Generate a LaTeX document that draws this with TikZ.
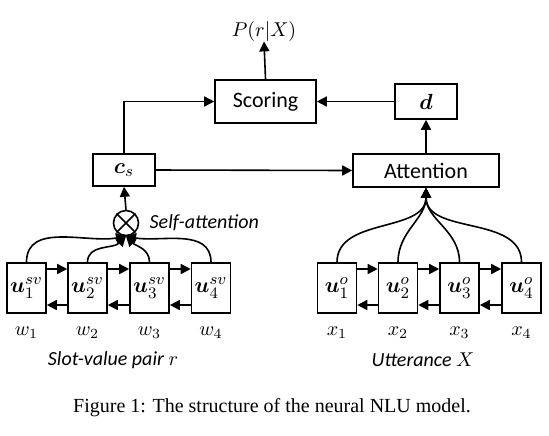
\documentclass[tikz,border=0pt]{standalone}
\usepackage{bm}
\usepackage{fontspec}
\setmainfont{Carlito}
\newfontfamily\captionfont{Liberation Serif}
\usetikzlibrary{arrows.meta,positioning}

\begin{document}
\begin{tikzpicture}[x=0.5pt,y=-0.5pt]
        \tikzstyle{every node}=[inner sep=0pt, font=\fontsize{11}{13}\selectfont]
        \tikzstyle{box}=[draw, line width=0.8pt, minimum width=19.5pt, minimum height=25pt]
        \tikzstyle{arr}=[line width=0.8pt, -{Triangle[length=5pt,width=5pt]}]
        \tikzstyle{lbl}=[font=\fontsize{10}{12}\selectfont]
        \useasboundingbox (0,0) rectangle (549,435);
        % top part
        \node[box, minimum width=50.5pt, minimum height=21.5pt] (score) at (265.5,101.5) {Scoring};
        \node[box, minimum width=31pt, minimum height=17.5pt] (d) at (426,101.5) {$\bm{d}$};
        \node[box, minimum width=31pt, minimum height=16pt] (cs) at (124,170) {$\bm{c}_s$};
        \node[box, minimum width=73pt, minimum height=16.5pt] (att) at (426,170.5) {Attention};
        \node[lbl] (prob) at (264,31) {$P(r|X)$};
        \node[draw, circle, line width=0.8pt, minimum size=12.5pt] (sa) at (126,223) {};
        \draw[line width=0.8pt] (sa.north west) -- (sa.south east) (sa.north east) -- (sa.south west);
        \node[lbl, right=5pt of sa] (satext) {\itshape Self-attention};
        % lower boxes
        \foreach \i/\xl/\xr/\a in {1/26.5/337/190, 2/87.5/398/225, 3/149.5/459.5/-45, 4/211/521.5/-10} {
            \node[box] (u\i) at (\xl,288) {$\bm{u}^{sv}_{\i}$};
            \node[box] (v\i) at (\xr,288) {$\bm{u}^{o}_{\i}$};
            \node[lbl] (w\i) at (\xl,333) {$w_{\i}$};
            \node[lbl] (x\i) at (\xr,333) {$x_{\i}$};
            \draw[arr] (u\i.north) to[out=90,in=\a] (sa.south);
            \draw[arr] (v\i.north) to[out=90,in=-90] (att.south);
        }
        \foreach \i/\j in {1/2,2/3,3/4} {
            \draw[arr] ([yshift=9.5pt]u\i.east) -- ([yshift=9.5pt]u\j.west);
            \draw[arr] ([yshift=-8.5pt]u\j.west) -- ([yshift=-8.5pt]u\i.east);
            \draw[arr] ([yshift=9.5pt]v\i.east) -- ([yshift=9.5pt]v\j.west);
            \draw[arr] ([yshift=-8.5pt]v\j.west) -- ([yshift=-8.5pt]v\i.east);
        }
        \node[lbl] (svtext) at (113,360) {\itshape Slot-value pair $r$};
        \node[lbl] (uttext) at (423,360) {\itshape Utterance $X$};
        % connections
        \draw[arr] (sa.north) -- (cs.south);
        \draw[arr] (cs.north) |- (score.west);
        \draw[arr] (cs.east) -- (att.west);
        \draw[arr] (att.north) -- (d.south);
        \draw[arr] (d.west) -- (score.east);
        \draw[arr] (score.north) -- (prob.south);
        \node[font=\captionfont\fontsize{10}{12}\selectfont] (caption) at (272,408) {Figure 1: The structure of the neural NLU model.};
    \end{tikzpicture}
\end{document}
